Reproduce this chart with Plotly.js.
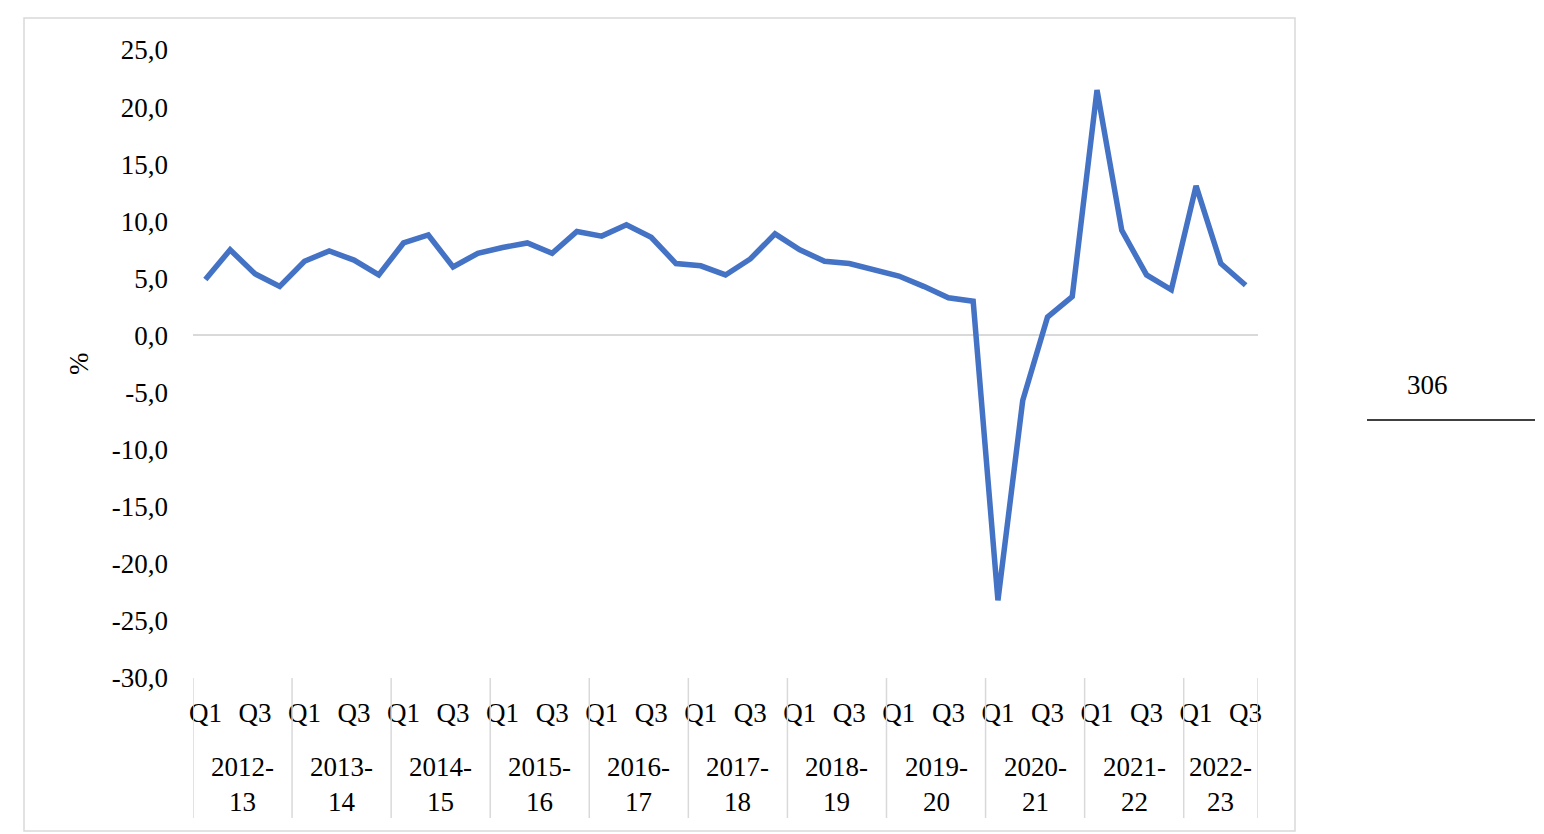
<!DOCTYPE html>
<html>
<head>
<meta charset="utf-8">
<script src="https://cdn.plot.ly/plotly-3.0.1.min.js"></script>
<style>
  html,body{margin:0;padding:0;background:#fff;}
  #chart{width:1544px;height:834px;}
</style>
</head>
<body>
<div id="chart"></div>
<script>
// quarterly growth, %
const years = ["2012-13","2013-14","2014-15","2015-16","2016-17","2017-18",
               "2018-19","2019-20","2020-21","2021-22","2022-23"];
const quarters = ["Q1","Q2","Q3","Q4"];
const shownQuarters = ["Q1","Q3"];
const growth = [
  4.9, 7.5, 5.4, 4.3,    // 2012-13
  6.5, 7.4, 6.6, 5.3,    // 2013-14
  8.1, 8.8, 6.0, 7.2,    // 2014-15
  7.7, 8.1, 7.2, 9.1,    // 2015-16
  8.7, 9.7, 8.6, 6.3,    // 2016-17
  6.1, 5.3, 6.7, 8.9,    // 2017-18
  7.5, 6.5, 6.3, 5.8,    // 2018-19
  5.2, 4.3, 3.3, 3.0,    // 2019-20
  -23.2, -5.7, 1.6, 3.4, // 2020-21
  21.5, 9.2, 5.3, 4.0,   // 2021-22
  13.1, 6.3, 4.4         // 2022-23
];
const yTicks = [-30,-25,-20,-15,-10,-5,0,5,10,15,20,25];
const pageNumber = "306";

const FONT = "'Liberation Serif','Times New Roman',serif";
const FS = 27;
const GRID = "#d9d9d9";

// one category per quarter, in order
const cats = [];
years.forEach(y => quarters.forEach(q => cats.push({year:y, q:q})));
cats.length = growth.length;
const xs = cats.map((c,i) => i);

const tickvals = [], ticktext = [];
cats.forEach((c,i) => { if(shownQuarters.includes(c.q)){ tickvals.push(i); ticktext.push(c.q); } });
// decimal comma, plain hyphen for negatives (as in the source)
const yText = yTicks.map(v => v.toFixed(1).replace(".", ","));

// plot box in px, used to convert outer decorations to paper coords
const L=193, R=1258, T=50, B=678;
const px = x => (x-L)/(R-L), py = y => (B-y)/(B-T);

const shapes = [
  {type:"rect", xref:"paper", yref:"paper", x0:px(24), x1:px(1295), y0:py(831), y1:py(18),
   line:{color:GRID, width:1.5}, fillcolor:"rgba(0,0,0,0)", layer:"below"},
  {type:"line", xref:"paper", yref:"paper", x0:px(1367), x1:px(1535), y0:py(420), y1:py(420),
   line:{color:"#404040", width:2}}
];
const annotations = [
  {xref:"paper", yref:"paper", x:px(79), y:0.5, xanchor:"center", yanchor:"middle",
   text:"%", textangle:-90, showarrow:false, font:{family:FONT, size:FS, color:"#000"}},
  {xref:"paper", yref:"paper", x:px(1427), y:py(385), xanchor:"center", yanchor:"middle",
   text:pageNumber, showarrow:false, font:{family:FONT, size:FS, color:"#000"}}
];

// year group dividers + labels
let start = 0;
years.forEach(y => {
  const n = cats.filter(c => c.year===y).length;
  shapes.push({type:"line", xref:"x", yref:"paper", x0:start-0.5, x1:start-0.5, y0:py(818), y1:0,
    line:{color:GRID, width:1.5}});
  const parts = y.split("-");
  annotations.push({xref:"x", yref:"paper", x:start+(n-1)/2, y:py(785),
    xanchor:"center", yanchor:"middle",
    text:parts[0]+"-<br>"+parts[1], showarrow:false, align:"center",
    font:{family:FONT, size:FS, color:"#000"}});
  start += n;
});
shapes.push({type:"line", xref:"x", yref:"paper", x0:start-0.5, x1:start-0.5, y0:py(818), y1:0,
  line:{color:GRID, width:1.5}});

const trace = {x:xs, y:growth, type:"scatter", mode:"lines",
  line:{color:"#4472C4", width:5.5}, hoverinfo:"skip", showlegend:false};

const layout = {
  width:1544, height:834,
  margin:{l:L, r:1544-R, t:T, b:834-B, autoexpand:false},
  paper_bgcolor:"#fff", plot_bgcolor:"#fff",
  font:{family:FONT, size:FS, color:"#000"},
  xaxis:{range:[-0.5, growth.length-0.5], tickvals:tickvals, ticktext:ticktext,
    showgrid:false, zeroline:false, showline:false, ticks:"", ticklabelstandoff:16,
    tickfont:{family:FONT, size:FS, color:"#000"}, fixedrange:true},
  yaxis:{range:[-30,25], tickvals:yTicks, ticktext:yText,
    showgrid:false, zeroline:true, zerolinecolor:GRID, zerolinewidth:2,
    showline:false, ticks:"", ticklabelstandoff:24,
    tickfont:{family:FONT, size:FS, color:"#000"}, fixedrange:true},
  shapes:shapes, annotations:annotations
};

Plotly.newPlot("chart", [trace], layout, {displayModeBar:false, staticPlot:true});
</script>
</body>
</html>
